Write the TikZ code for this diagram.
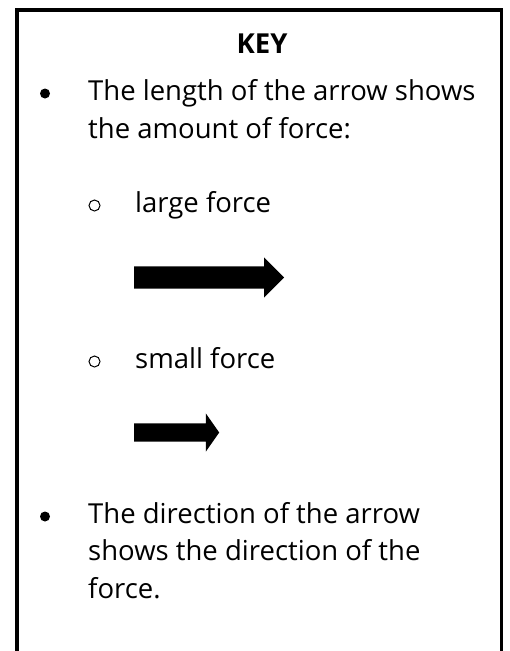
\documentclass[tikz,border=0pt]{standalone}
\usepackage{fontspec}
\setmainfont{Open Sans}
\usetikzlibrary{shapes.arrows}
\tikzset{
  ttl/.style={font=\fontsize{27.5}{38}\selectfont\bfseries, inner sep=0pt, anchor=base},
  txt/.style={font=\fontsize{27.5}{38}\selectfont, inner sep=0pt, anchor=base west},
  bul/.style={circle, fill=black, minimum size=10pt, inner sep=0pt},
  sbul/.style={circle, draw=black, line width=1pt, minimum size=11pt, inner sep=0pt},
  farr/.style={single arrow, fill=black, inner xsep=0pt, anchor=tail, single arrow head indent=0pt},
}
\begin{document}
\begin{tikzpicture}[x=1pt,y=-1pt]
\useasboundingbox (0,0) rectangle (510,651);
% frame, open at the bottom
\draw[line width=3.5pt] (17,651) -- (17,10) -- (501.5,10) -- (501.5,651);
% title
\node[ttl] (keyttl) at (262,53) {KEY};
% first point
\node[bul] (b1) at (45,93.5) {};
\node[txt] (len1) at (88,100) {The length of the arrow shows};
\node[txt] (len2) at (88,138) {the amount of force:};
% large force
\node[sbul] (o1) at (94.5,205.5) {};
\node[txt] (lrg) at (135,212) {large force};
\node[farr, inner ysep=11pt, minimum height=150pt, single arrow head extend=9pt] (big) at (134,277.5) {};
% small force
\node[sbul] (o2) at (94.5,361.5) {};
\node[txt] (sml) at (135,368) {small force};
\node[farr, inner ysep=9pt, minimum height=85pt, single arrow head extend=10pt, single arrow tip angle=110] (lit) at (134,432.5) {};
% second point
\node[bul] (b2) at (45,516.5) {};
\node[txt] (dir1) at (88,523) {The direction of the arrow};
\node[txt] (dir2) at (88,560) {shows the direction of the};
\node[txt] (dir3) at (88,598) {force.};
\end{tikzpicture}
\end{document}
